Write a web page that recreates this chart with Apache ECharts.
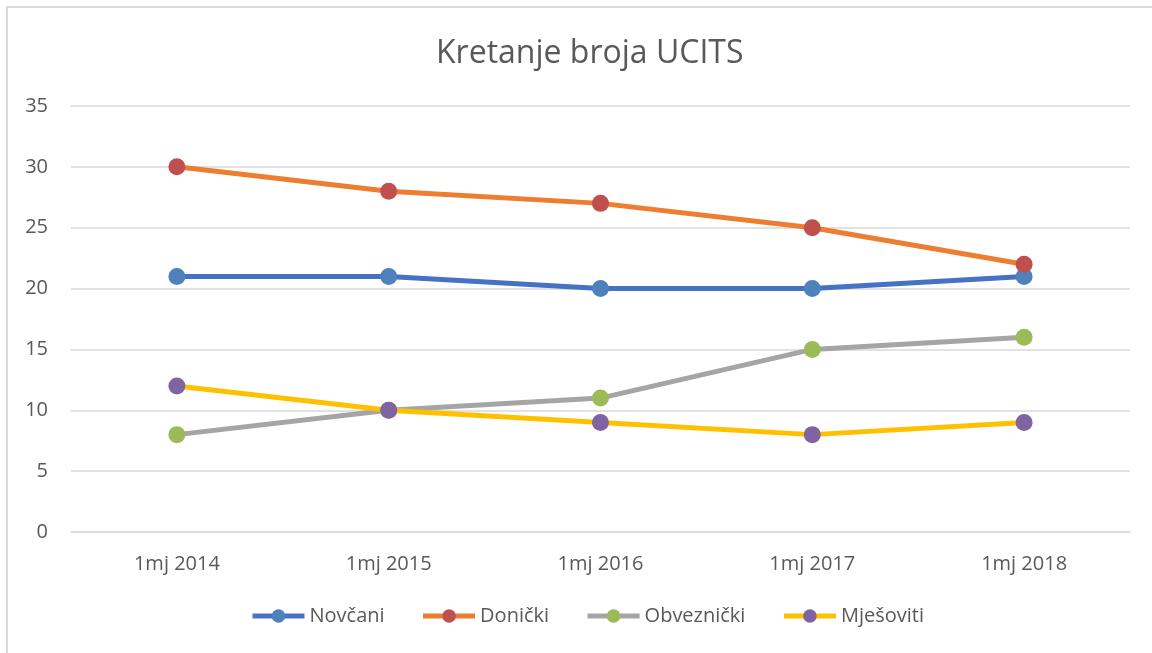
<html>
<head>
<meta charset="utf8">
<script src="https://cdn.jsdelivr.net/npm/echarts@6/dist/echarts.min.js" type="text/javascript"></script>
<style>
	body { margin:0; background:#fff; }
	#echarts-main { width:1152px; height:653px; }
</style>
</head>
<body>
<div id="echarts-main"></div>
<script type="text/javascript">
	var categories = ['1mj 2014', '1mj 2015', '1mj 2016', '1mj 2017', '1mj 2018'];
	var seriesNames = ['Novčani', 'Donički', 'Obveznički', 'Mješoviti'];
	var novcani = [21, 21, 20, 20, 21];
	var donicki = [30, 28, 27, 25, 22];
	var obveznicki = [8, 10, 11, 15, 16];
	var mjesoviti = [12, 10, 9, 8, 9];
	var lineColors = ['#4472C4', '#ED7D31', '#A5A5A5', '#FFC000'];
	var markerColors = ['#4F81BD', '#C0504D', '#9BBB59', '#8064A2'];

	var values = [novcani, donicki, obveznicki, mjesoviti];
	var font = 'Open Sans';

	function makeSeries() {
		var list = [];
		for (var i = 0; i < values.length; i++) {
			list.push({
				name: seriesNames[i],
				type: 'line',
				data: values[i],
				symbol: 'circle',
				symbolSize: 17,
				lineStyle: { color: lineColors[i], width: 5 },
				itemStyle: { color: markerColors[i] },
				emphasis: { disabled: true }
			});
		}
		return list;
	}

	var myChart = echarts.init(document.getElementById('echarts-main'));
	var option = {
		animation: false,
		textStyle: { fontFamily: font },
		title: {
			text: 'Kretanje broja UCITS',
			left: 431,
			top: 33,
			textStyle: { fontFamily: font, fontSize: 32, fontWeight: 'normal', color: '#595959' }
		},
		graphic: [{
			type: 'rect',
			shape: { x: 7, y: 7, width: 1160, height: 670 },
			style: { fill: null, stroke: '#d9d9d9', lineWidth: 2 },
			silent: true
		}],
		legend: {
			bottom: 22,
			left: 245,
			itemWidth: 52,
			itemHeight: 17,
			itemGap: 36,
			lineStyle: { width: 5 },
			textStyle: { fontFamily: font, fontSize: 20, color: '#595959' },
			data: seriesNames
		},
		grid: { left: 71, right: 22, top: 106, bottom: 121 },
		xAxis: {
			type: 'category',
			data: categories,
			boundaryGap: true,
			axisLine: { lineStyle: { color: '#d9d9d9', width: 1.5 } },
			axisTick: { show: false },
			axisLabel: { fontFamily: font, fontSize: 20, color: '#595959', margin: 22 }
		},
		yAxis: {
			type: 'value',
			min: 0,
			max: 35,
			interval: 5,
			axisLine: { show: false },
			axisTick: { show: false },
			splitLine: { lineStyle: { color: '#d9d9d9', width: 1.5 } },
			axisLabel: { fontFamily: font, fontSize: 20, color: '#595959', margin: 23 }
		},
		series: makeSeries()
	};
	myChart.setOption(option);
</script>
</body>
</html>
